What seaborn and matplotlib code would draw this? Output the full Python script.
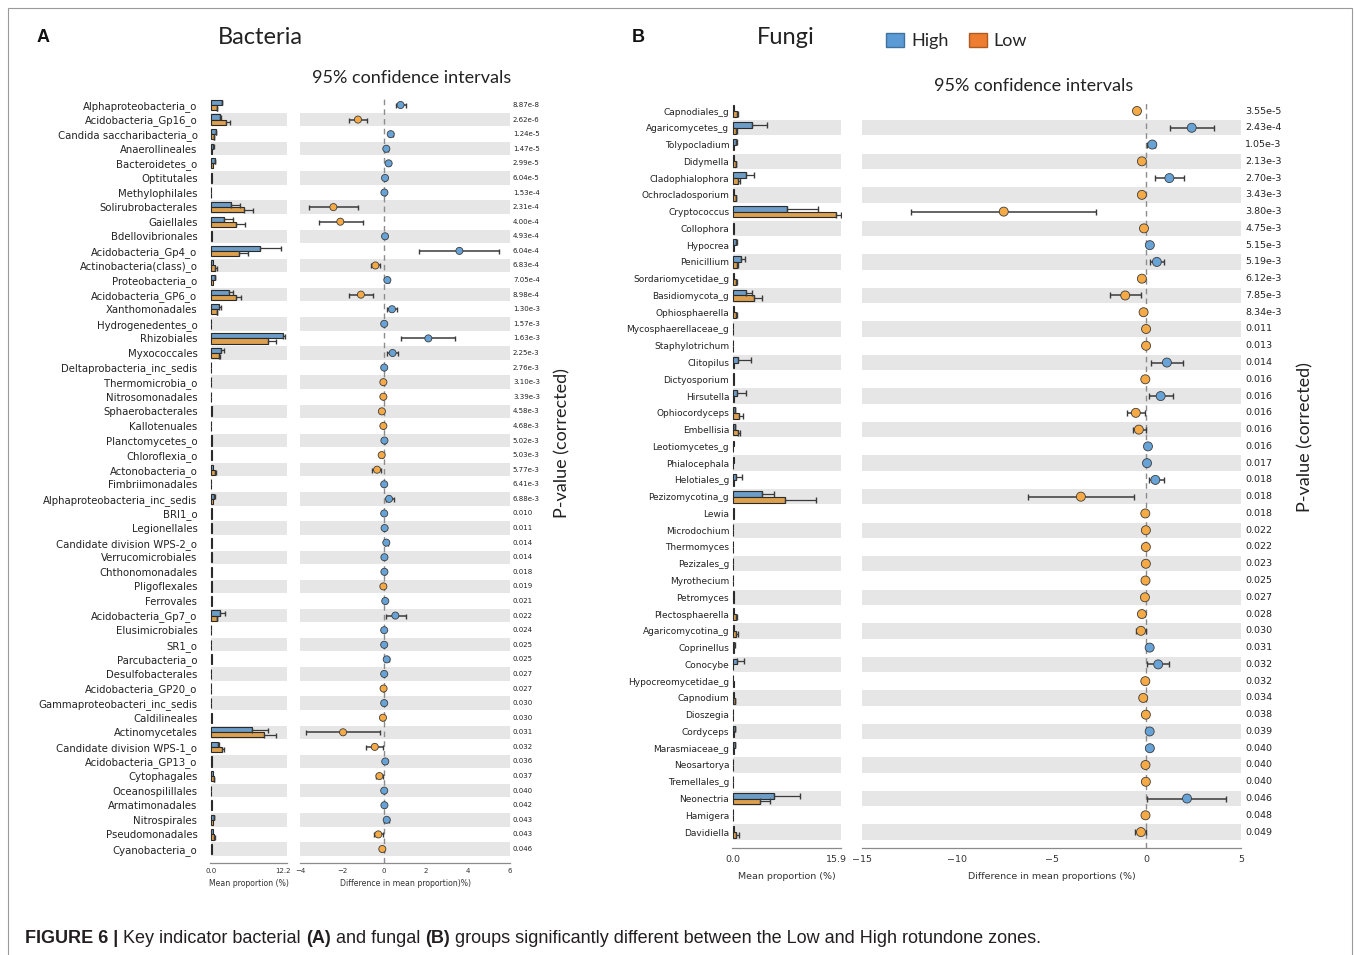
import numpy as np
import pandas as pd
import matplotlib
matplotlib.use("Agg")
import matplotlib.pyplot as plt
import matplotlib.transforms as mtransforms
from matplotlib.patches import Patch, Rectangle
from matplotlib import font_manager
import seaborn as sns

# === Panel A: bacteria ===
bac_taxa = [
    "Alphaproteobacteria_o", "Acidobacteria_Gp16_o", "Candida saccharibacteria_o",
    "Anaerollineales", "Bacteroidetes_o", "Optitutales", "Methylophilales",
    "Solirubrobacterales", "Gaiellales", "Bdellovibrionales", "Acidobacteria_Gp4_o",
    "Actinobacteria(class)_o", "Proteobacteria_o", "Acidobacteria_GP6_o",
    "Xanthomonadales", "Hydrogenedentes_o", "Rhizobiales", "Myxococcales",
    "Deltaprobacteria_inc_sedis", "Thermomicrobia_o", "Nitrosomonadales",
    "Sphaerobacterales", "Kallotenuales", "Planctomycetes_o", "Chloroflexia_o",
    "Actonobacteria_o", "Fimbriimonadales", "Alphaproteobacteria_inc_sedis", "BRI1_o",
    "Legionellales", "Candidate division WPS-2_o", "Verrucomicrobiales",
    "Chthonomonadales", "Pligoflexales", "Ferrovales", "Acidobacteria_Gp7_o",
    "Elusimicrobiales", "SR1_o", "Parcubacteria_o", "Desulfobacterales",
    "Acidobacteria_GP20_o", "Gammaproteobacteri_inc_sedis", "Caldilineales",
    "Actinomycetales", "Candidate division WPS-1_o", "Acidobacteria_GP13_o",
    "Cytophagales", "Oceanospilillales", "Armatimonadales", "Nitrospirales",
    "Pseudomonadales", "Cyanobacteria_o",
]
bac_high = [1.84, 1.56, 0.9, 0.45, 0.67, 0.22, 0.1, 3.35, 2.2, 0.2, 8.4, 0.34, 0.67,
            3.07, 1.45, 0.1, 12.2, 1.8, 0.05, 0.1, 0.1, 0.2, 0.1, 0.2, 0.25, 0.33,
            0.08, 0.6, 0.2, 0.25, 0.3, 0.25, 0.2, 0.15, 0.25, 1.55, 0.1, 0.1, 0.3,
            0.1, 0.1, 0.1, 0.15, 7.0, 1.3, 0.2, 0.45, 0.1, 0.15, 0.56, 0.34, 0.15]
bac_low = [1.0, 2.57, 0.56, 0.28, 0.34, 0.2, 0.1, 5.6, 4.25, 0.2, 4.8, 0.7, 0.45,
           4.25, 1.0, 0.1, 9.7, 1.45, 0.05, 0.12, 0.12, 0.25, 0.12, 0.18, 0.3, 0.7,
           0.08, 0.4, 0.2, 0.22, 0.2, 0.25, 0.2, 0.17, 0.2, 1.0, 0.1, 0.1, 0.17,
           0.1, 0.1, 0.1, 0.2, 9.0, 1.85, 0.15, 0.56, 0.1, 0.15, 0.45, 0.56, 0.17]
bac_high_err = [0.1, 0.1, 0.05, 0.05, 0.05, 0, 0, 1.56, 1.56, 0, 3.5, 0, 0.05,
                0.73, 0.22, 0, 0.28, 0.45, 0, 0, 0, 0, 0, 0, 0, 0,
                0, 0.1, 0, 0, 0, 0, 0, 0, 0, 0.84, 0, 0, 0,
                0, 0, 0, 0, 2.6, 0.05, 0, 0, 0, 0, 0.05, 0, 0]
bac_low_err = [0.05, 0.67, 0.05, 0, 0, 0, 0, 1.56, 1.62, 0, 1.5, 0.28, 0,
               0.78, 0.05, 0, 1.4, 0.1, 0, 0, 0, 0, 0, 0, 0, 0.2,
               0, 0, 0, 0, 0, 0, 0, 0, 0, 0.1, 0, 0, 0,
               0, 0, 0, 0, 2.07, 0.4, 0, 0.05, 0, 0, 0, 0.1, 0]
bac_diff = [0.79, -1.24, 0.32, 0.11, 0.22, 0.05, 0.02, -2.41, -2.08, 0.05, 3.59, -0.41,
            0.16, -1.10, 0.38, 0.01, 2.11, 0.41, 0.01, -0.03, -0.03, -0.10, -0.03, 0.02,
            -0.11, -0.33, 0.01, 0.24, 0.01, 0.03, 0.11, 0.02, 0.02, -0.03, 0.06, 0.54,
            0.01, 0.01, 0.13, 0.01, -0.02, 0.01, -0.05, -1.95, -0.44, 0.06, -0.22, 0.01,
            0.02, 0.13, -0.27, -0.08]
bac_ci_lo = [0.59, -1.67, 0.22, 0.05, 0.14, 0.01, 0.0, -3.59, -3.11, 0.01, 1.67, -0.63,
             0.08, -1.67, 0.16, 0.0, 0.83, 0.14, 0.0, -0.06, -0.06, -0.17, -0.06, 0.0,
             -0.18, -0.56, 0.0, 0.08, 0.0, 0.0, 0.03, 0.0, 0.0, -0.06, 0.01, 0.08,
             0.0, 0.0, 0.03, 0.0, -0.04, 0.0, -0.09, -3.70, -0.84, 0.01, -0.40, 0.0,
             0.0, 0.02, -0.49, -0.14]
bac_ci_hi = [1.06, -0.81, 0.42, 0.17, 0.30, 0.09, 0.04, -1.22, -1.02, 0.09, 5.48, -0.21,
             0.24, -0.51, 0.62, 0.02, 3.37, 0.67, 0.02, -0.01, -0.01, -0.04, -0.01, 0.05,
             -0.05, -0.13, 0.02, 0.46, 0.02, 0.06, 0.19, 0.05, 0.05, -0.01, 0.11, 1.03,
             0.02, 0.02, 0.22, 0.02, -0.01, 0.02, -0.01, -0.21, -0.05, 0.11, -0.03, 0.02,
             0.04, 0.24, -0.06, -0.02]
bac_pvals = ["8.87e-8", "2.62e-6", "1.24e-5", "1.47e-5", "2.99e-5", "6.04e-5", "1.53e-4",
             "2.31e-4", "4.00e-4", "4.93e-4", "6.04e-4", "6.83e-4", "7.05e-4", "8.98e-4",
             "1.30e-3", "1.57e-3", "1.63e-3", "2.25e-3", "2.76e-3", "3.10e-3", "3.39e-3",
             "4.58e-3", "4.68e-3", "5.02e-3", "5.03e-3", "5.77e-3", "6.41e-3", "6.88e-3",
             "0.010", "0.011", "0.014", "0.014", "0.018", "0.019", "0.021", "0.022",
             "0.024", "0.025", "0.025", "0.027", "0.027", "0.030", "0.030", "0.031",
             "0.032", "0.036", "0.037", "0.040", "0.042", "0.043", "0.043", "0.046"]

# === Panel B: fungi ===
fun_taxa = [
    "Capnodiales_g", "Agaricomycetes_g", "Tolypocladium", "Didymella", "Cladophialophora",
    "Ochrocladosporium", "Cryptococcus", "Collophora", "Hypocrea", "Penicillium",
    "Sordariomycetidae_g", "Basidiomycota_g", "Ophiosphaerella", "Mycosphaerellaceae_g",
    "Staphylotrichum", "Clitopilus", "Dictyosporium", "Hirsutella", "Ophiocordyceps",
    "Embellisia", "Leotiomycetes_g", "Phialocephala", "Helotiales_g", "Pezizomycotina_g",
    "Lewia", "Microdochium", "Thermomyces", "Pezizales_g", "Myrothecium", "Petromyces",
    "Plectosphaerella", "Agaricomycotina_g", "Coprinellus", "Conocybe",
    "Hypocreomycetidae_g", "Capnodium", "Dioszegia", "Cordyceps", "Marasmiaceae_g",
    "Neosartorya", "Tremellales_g", "Neonectria", "Hamigera", "Davidiella",
]
fun_high = [0.1, 3.0, 0.5, 0.1, 1.96, 0.1, 8.36, 0.1, 0.5, 1.3, 0.1, 2.06, 0.1, 0.05,
            0.05, 0.77, 0.1, 0.67, 0.26, 0.26, 0.2, 0.1, 0.5, 4.54, 0.1, 0.05, 0.05, 0.05,
            0.05, 0.1, 0.1, 0.15, 0.2, 0.6, 0.05, 0.1, 0.05, 0.26, 0.26, 0.05, 0.05, 6.35,
            0.05, 0.1]
fun_low = [0.6, 0.5, 0.2, 0.4, 0.72, 0.4, 15.9, 0.15, 0.2, 0.67, 0.5, 3.2, 0.5, 0.05,
           0.05, 0.1, 0.12, 0.1, 0.93, 0.72, 0.05, 0.06, 0.1, 8.0, 0.12, 0.05, 0.05, 0.05,
           0.05, 0.1, 0.5, 0.5, 0.1, 0.05, 0.1, 0.3, 0.05, 0.1, 0.1, 0.05, 0.05, 4.23,
           0.05, 0.5]
fun_high_err = [0, 2.2, 0.05, 0, 1.24, 0, 4.8, 0, 0.05, 0.5, 0, 0.93, 0, 0,
                0, 2.07, 0, 1.4, 0.05, 0.05, 0, 0, 0.93, 1.76, 0, 0, 0, 0,
                0, 0, 0, 0, 0.05, 1.03, 0, 0, 0, 0.05, 0.05, 0, 0, 3.98,
                0, 0]
fun_low_err = [0.1, 0.1, 0, 0.05, 0.3, 0.05, 0.72, 0, 0, 0.1, 0.05, 1.24, 0.05, 0,
               0, 0, 0, 0, 0.6, 0.4, 0, 0, 0, 4.8, 0, 0, 0, 0,
               0, 0, 0.1, 0.25, 0, 0, 0, 0.05, 0, 0, 0, 0, 0, 1.55,
               0, 0.4]
fun_diff = [-0.49, 2.40, 0.32, -0.23, 1.22, -0.23, -7.52, -0.12, 0.19, 0.56, -0.23, -1.11,
            -0.14, -0.01, -0.01, 1.09, -0.05, 0.76, -0.55, -0.39, 0.09, 0.04, 0.48, -3.45,
            -0.05, -0.02, -0.02, -0.02, -0.04, -0.07, -0.23, -0.28, 0.18, 0.63, -0.05,
            -0.16, -0.02, 0.18, 0.19, -0.04, -0.02, 2.15, -0.04, -0.28]
fun_ci_lo = [-0.62, 1.27, 0.05, -0.33, 0.44, -0.33, -12.39, -0.20, 0.12, 0.21, -0.33, -1.90,
             -0.22, -0.03, -0.03, 0.25, -0.10, 0.16, -0.99, -0.70, 0.03, 0.0, 0.16, -6.22,
             -0.10, -0.04, -0.04, -0.04, -0.07, -0.12, -0.39, -0.55, 0.10, 0.04, -0.09,
             -0.26, -0.04, 0.10, 0.10, -0.07, -0.04, 0.04, -0.07, -0.62]
fun_ci_hi = [-0.36, 3.56, 0.48, -0.13, 1.97, -0.13, -2.64, -0.05, 0.26, 0.95, -0.13, -0.28,
             -0.06, 0.0, 0.0, 1.94, -0.01, 1.39, -0.09, 0.0, 0.15, 0.08, 0.92, -0.63,
             -0.01, 0.0, 0.0, 0.0, -0.01, -0.02, -0.06, -0.01, 0.26, 1.22, -0.01,
             -0.03, 0.0, 0.26, 0.28, -0.01, 0.0, 4.23, -0.01, 0.0]
fun_pvals = ["3.55e-5", "2.43e-4", "1.05e-3", "2.13e-3", "2.70e-3", "3.43e-3", "3.80e-3",
             "4.75e-3", "5.15e-3", "5.19e-3", "6.12e-3", "7.85e-3", "8.34e-3", "0.011",
             "0.013", "0.014", "0.016", "0.016", "0.016", "0.016", "0.016", "0.017",
             "0.018", "0.018", "0.018", "0.022", "0.022", "0.023", "0.025", "0.027",
             "0.028", "0.030", "0.031", "0.032", "0.032", "0.034", "0.038", "0.039",
             "0.040", "0.040", "0.040", "0.046", "0.048", "0.049"]

# === Colours ===
BAR_BLUE = "#5e9ed6"
BAR_ORANGE = "#f3a438"
DOT_BLUE = "#67a3d6"
DOT_ORANGE = "#f5aa46"
BAND = "#e6e6e6"
LEG_BLUE = "#5b9bd5"
LEG_ORANGE = "#ed7d31"

sns.set_style("white")
plt.rcParams["font.family"] = ["DejaVu Sans"]

W, H = 1355, 955
fig = plt.figure(figsize=(W / 100, H / 100), dpi=100)


def px_axes(left, top, right, bottom):
    return fig.add_axes([left / W, 1 - bottom / H, (right - left) / W, (bottom - top) / H])


def draw_panel(ax_bar, ax_diff, taxa, high, low, high_err, low_err, diff, lo, hi, pvals, c):
    n = len(taxa)
    pos = np.arange(n)

    # --- mean proportion bars ---
    long = pd.DataFrame({
        "taxon": taxa * 2,
        "group": ["High"] * n + ["Low"] * n,
        "value": high + low,
    })
    sns.barplot(data=long, x="value", y="taxon", hue="group", order=taxa,
                hue_order=["High", "Low"], palette={"High": BAR_BLUE, "Low": BAR_ORANGE},
                orient="h", width=0.7, edgecolor="#2a2a2a", linewidth=0.8,
                errorbar=None, legend=False, ax=ax_bar, zorder=2)
    for vals, errs, off in [(high, high_err, -0.175), (low, low_err, 0.175)]:
        v = np.array(vals)
        e = np.array(errs)
        m = e > 0
        ax_bar.errorbar(v[m], pos[m] + off, xerr=[np.zeros(m.sum()), e[m]], fmt="none",
                        ecolor="#3a3a3a", elinewidth=0.9, capsize=c["cap"], zorder=3)
    ax_bar.set_xlim(*c["bar_xlim"])
    ax_bar.set_ylim(*c["ylim"])
    x0 = (0 - c["bar_xlim"][0]) / (c["bar_xlim"][1] - c["bar_xlim"][0])
    for i in range(1, n, 2):
        ax_bar.axhspan(i - 0.46, i + 0.46, xmin=x0, xmax=1, color=BAND, lw=0, zorder=0)
    ax_bar.set_xticks(c["bar_ticks"])
    ax_bar.set_xticklabels(c["bar_ticklabels"])
    ax_bar.set_xlabel("Mean proportion (%)", fontsize=c["xlabel_size"], labelpad=c["labelpad"],
                      color="#333333")
    ax_bar.set_ylabel("")
    ax_bar.tick_params(axis="y", length=c["ytick_len"], width=0.6, color="#999999",
                       labelsize=c["label_size"], pad=c["ypad"], labelcolor="#222222")

    # --- difference in mean proportions with 95% CI ---
    d = pd.DataFrame({
        "diff": diff,
        "pos": pos,
        "group": np.where(np.array(diff) > 0, "High", "Low"),
    })
    for i in range(1, n, 2):
        ax_diff.axhspan(i - 0.46, i + 0.46, color=BAND, lw=0, zorder=0)
    ax_diff.axvline(0, color="#8c8c8c", ls=(0, (4, 3)), lw=1.0, zorder=1)
    dv = np.array(diff)
    ax_diff.errorbar(dv, pos, xerr=[dv - np.array(lo), np.array(hi) - dv], fmt="none",
                     ecolor="#3a3a3a", elinewidth=1.1, capsize=c["cap"], zorder=2)
    sns.scatterplot(data=d, x="diff", y="pos", hue="group",
                    palette={"High": DOT_BLUE, "Low": DOT_ORANGE}, s=c["dot_s"],
                    edgecolor="#3c3c3c", linewidth=0.6, legend=False, ax=ax_diff, zorder=4)
    ax_diff.set_xlim(*c["diff_xlim"])
    ax_diff.set_ylim(*c["ylim"])
    ax_diff.set_xticks(c["diff_ticks"])
    ax_diff.set_yticks([])
    ax_diff.set_ylabel("")
    ax_diff.set_xlabel(c["diff_label"], fontsize=c["xlabel_size"], labelpad=c["labelpad"],
                       color="#333333")
    tr = mtransforms.blended_transform_factory(ax_diff.transAxes, ax_diff.transData)
    for i, p in enumerate(pvals):
        ax_diff.text(c["p_x"], i, p, transform=tr, va="center", ha="left",
                     fontsize=c["p_size"], color="#222222")

    for ax in (ax_bar, ax_diff):
        for s in ("left", "top", "right"):
            ax.spines[s].set_visible(False)
        ax.spines["bottom"].set_color("#8a8a8a")
        ax.spines["bottom"].set_linewidth(0.9)
        ax.tick_params(axis="x", direction="in", length=3, width=0.8, color="#8a8a8a",
                       labelsize=c["tick_size"], labelcolor="#333333", pad=c["xpad"])
        ax.set_facecolor("none")


# === Panel A axes ===
a_bar = px_axes(210, 95, 287, 863)
a_diff = px_axes(300, 95, 510, 863)
draw_panel(a_bar, a_diff, bac_taxa, bac_high, bac_low, bac_high_err, bac_low_err,
           bac_diff, bac_ci_lo, bac_ci_hi, bac_pvals,
           dict(bar_xlim=(-0.118, 12.875), bar_ticks=[0, 12.2], bar_ticklabels=["0.0", "12.2"],
                diff_xlim=(-4, 6), diff_ticks=[-4, -2, 0, 2, 4, 6],
                diff_label="Difference in mean proportion)%)",
                ylim=(51.96, -0.685), cap=1.8, dot_s=26, label_size=7.3, ypad=7,
                ytick_len=2, tick_size=5, xlabel_size=5.6, labelpad=4, xpad=3.5,
                p_x=1.014, p_size=5))

# === Panel B axes ===
b_bar = px_axes(732, 100, 841, 848)
b_diff = px_axes(862, 100, 1241, 848)
draw_panel(b_bar, b_diff, fun_taxa, fun_high, fun_low, fun_high_err, fun_low_err,
           fun_diff, fun_ci_lo, fun_ci_hi, fun_pvals,
           dict(bar_xlim=(-0.154, 16.67), bar_ticks=[0, 15.9], bar_ticklabels=["0.0", "15.9"],
                diff_xlim=(-15, 5), diff_ticks=[-15, -10, -5, 0, 5],
                diff_label="Difference in mean proportions (%)",
                ylim=(43.95, -0.656), cap=2.5, dot_s=42, label_size=6.5, ypad=2,
                ytick_len=0, tick_size=6.8, xlabel_size=6.8, labelpad=6, xpad=5,
                p_x=1.0106, p_size=6.8))

# === Titles and labels ===
def ftext(x, y, s, **kw):
    return fig.text(x / W, 1 - y / H, s, **kw)


ftext(43, 37, "A", fontsize=13, fontweight="bold", family="Liberation Sans", ha="center",
      va="center", color="#111111")
ftext(638, 37, "B", fontsize=13, fontweight="bold", family="Liberation Sans", ha="center",
      va="center", color="#111111")
ftext(218, 38, "Bacteria", fontsize=17, family="Lato", ha="left", va="center", color="#222222")
ftext(757, 38, "Fungi", fontsize=17, family="Lato", ha="left", va="center", color="#222222")
ftext(412, 78, "95% confidence intervals", fontsize=13, family="Lato", ha="center",
      va="center", color="#222222")
ftext(1034, 86, "95% confidence intervals", fontsize=13, family="Lato", ha="center",
      va="center", color="#222222")
ftext(562, 443, "P-value (corrected)", fontsize=13, family="Lato", rotation=90, ha="center",
      va="center", color="#222222")
ftext(1305, 437, "P-value (corrected)", fontsize=13, family="Lato", rotation=90, ha="center",
      va="center", color="#222222")

handles = [Patch(facecolor=LEG_BLUE, edgecolor="#41719c", label="High"),
           Patch(facecolor=LEG_ORANGE, edgecolor="#ae5a21", label="Low")]
fig.legend(handles=handles, loc="center left", bbox_to_anchor=(886 / W, 1 - 41 / H),
           ncol=2, frameon=False, prop={"family": "Lato", "size": 13},
           handlelength=1.0, handleheight=0.8, handletextpad=0.4, columnspacing=1.1,
           borderaxespad=0, borderpad=0)

# === Frame ===
fig.add_artist(Rectangle((8 / W, -0.01), (1352 - 8) / W, 1.01 - 8 / H,
                         transform=fig.transFigure, fill=False, edgecolor="#9a9a9a", lw=0.8))

# === Caption (mixed bold / regular runs) ===
names = {f.name for f in font_manager.fontManager.ttflist}
cap_font = "Liberation Sans Narrow" if "Liberation Sans Narrow" in names else "Liberation Sans"
caption_parts = [("FIGURE 6 | ", "bold"), ("Key indicator bacterial ", "normal"),
                 ("(A)", "bold"), (" and fungal ", "normal"), ("(B)", "bold"),
                 (" groups significantly different between the Low and High rotundone zones.",
                  "normal")]
renderer = fig.canvas.get_renderer()


def put_caption(size):
    x = 25.0
    arts = []
    for txt, weight in caption_parts:
        t = ftext(x, 938, txt, fontsize=size, fontweight=weight, family=cap_font,
                  ha="left", va="center", color="#231f20")
        x = t.get_window_extent(renderer).x1
        arts.append(t)
    return arts, x - 25.0


arts, width = put_caption(12)
for t in arts:
    t.remove()
put_caption(12 * 1018 / width)

fig.savefig("out.png", dpi=100)
